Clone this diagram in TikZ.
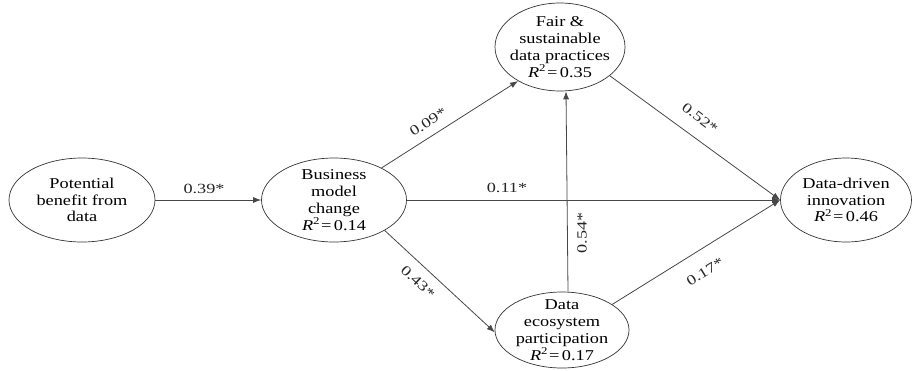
\documentclass[tikz,border=0pt]{standalone}
\usepackage{fontspec}
\setmainfont[FakeStretch=1.22]{Liberation Serif}
\newfontfamily\lblfont[FakeStretch=1.3]{Liberation Serif}
\usetikzlibrary{shapes.geometric,arrows.meta}
\newcommand{\Rsq}[1]{\textit{R}\textsuperscript{2}\kern1pt=\,#1}
\begin{document}
\begin{tikzpicture}[x=1pt,y=-1pt,
  latent/.style={ellipse,draw=black!80,line width=0.7pt,inner sep=-20pt,align=center,
    font=\fontsize{15}{16.8}\selectfont},
  pathline/.style={draw=black!72,line width=0.8pt,-{Latex[length=8pt,width=6pt]}},
  coef/.style={font=\lblfont\fontsize{14}{16}\selectfont,inner sep=1pt,text=black!85}]
\useasboundingbox (0,0) rectangle (917,370);
\node[latent,minimum width=146pt,minimum height=84pt] (pb) at (82,200) {Potential\\benefit from\\data};
\node[latent,minimum width=145pt,minimum height=84pt] (bm) at (334,200) {Business\\model\\change\\\Rsq{0.14}};
\node[latent,minimum width=130pt,minimum height=88pt] (fair) at (560,47) {Fair \&\\sustainable\\data practices\\\Rsq{0.35}};
\node[latent,minimum width=134pt,minimum height=76pt] (eco) at (562,330) {Data\\ecosystem\\participation\\\Rsq{0.17}};
\node[latent,minimum width=131pt,minimum height=84pt] (ddi) at (846,200) {Data-driven\\innovation\\\Rsq{0.46}};

\draw[pathline] (pb.east) -- (bm.west);
\draw[pathline] (bm.34) -- (fair.219);
\draw[pathline] (bm.east) -- (ddi.west);
\draw[pathline] (bm.-31) -- (eco.182);
\draw[pathline] ([xshift=6pt]eco.north) -- ([xshift=6pt]fair.south);
\draw[pathline] (fair.-30) -- (ddi.west);
\draw[pathline] (eco.27) -- (ddi.west);

\node[coef] (l39) at (204,189) {0.39*};
\node[coef] (l11) at (507,188) {0.11*};
\node[coef,rotate=33] (l09) at (428,122) {0.09*};
\node[coef,rotate=-43] (l43) at (418,282) {0.43*};
\node[coef,rotate=90] (l54) at (582,233) {0.54*};
\node[coef,rotate=-37] (l52) at (700,118) {0.52*};
\node[coef,rotate=32] (l17) at (705,272) {0.17*};
\end{tikzpicture}
\end{document}
